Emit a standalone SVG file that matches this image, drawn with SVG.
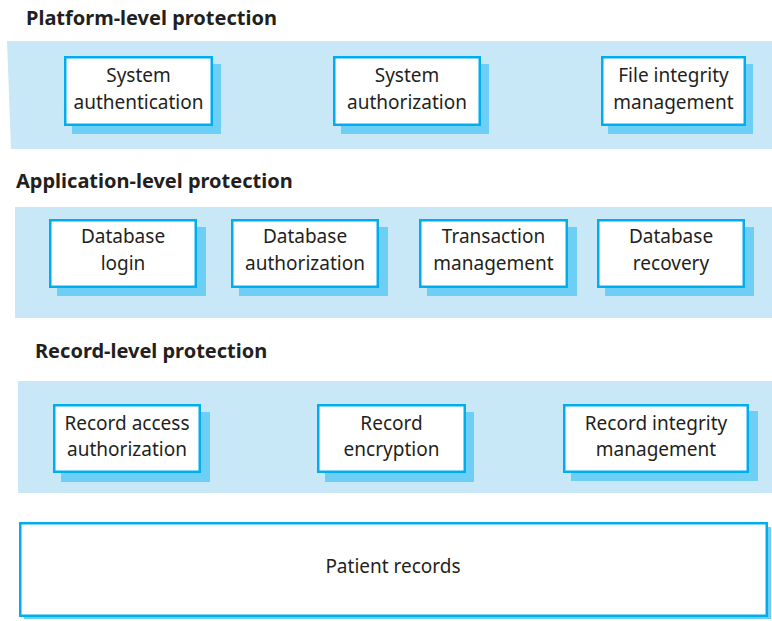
<svg xmlns="http://www.w3.org/2000/svg" width="772" height="621" viewBox="0 0 772 621">
<defs>
<style>
.band{fill:#C8E8F8;}
.shadow{fill:#6DCFF6;}
.box{fill:#FFFFFF;stroke:#00AEEF;stroke-width:2.5;}
.title{font-family:"Noto Sans","Open Sans",sans-serif;font-weight:bold;font-size:20px;fill:#231F20;}
.lbl{font-family:"Noto Sans","Open Sans",sans-serif;font-size:19px;fill:#231F20;text-anchor:middle;}
</style>
</defs>
<rect width="772" height="621" fill="#FFFFFF"/>

<g id="platform-level">
<text class="title" x="26" y="25">Platform-level protection</text>
<polygon class="band" points="7,41 772,41 772,149 11,149"/>
</g>
<g id="system-authentication">
<rect class="shadow" x="72" y="64" width="149" height="70"/>
<rect class="box" x="65.25" y="57.25" width="146.5" height="67.5"/>
<text class="lbl" x="138.5" y="82">System</text>
<text class="lbl" x="138.5" y="109">authentication</text>
</g>
<g id="system-authorization">
<rect class="shadow" x="341" y="64" width="148" height="70"/>
<rect class="box" x="334.25" y="57.25" width="145.5" height="67.5"/>
<text class="lbl" x="407" y="82">System</text>
<text class="lbl" x="407" y="109">authorization</text>
</g>
<g id="file-integrity-management">
<rect class="shadow" x="608" y="64" width="145" height="70"/>
<rect class="box" x="602.25" y="57.25" width="142.5" height="67.5"/>
<text class="lbl" x="673.5" y="82">File integrity</text>
<text class="lbl" x="673.5" y="109">management</text>
</g>

<g id="application-level">
<text class="title" x="16" y="188">Application-level protection</text>
<rect class="band" x="15" y="207" width="757" height="111"/>
</g>
<g id="database-login">
<rect class="shadow" x="57" y="227" width="149" height="69"/>
<rect class="box" x="50.25" y="220.25" width="145.5" height="66.5"/>
<text class="lbl" x="123" y="243">Database</text>
<text class="lbl" x="123" y="270">login</text>
</g>
<g id="database-authorization">
<rect class="shadow" x="239" y="227" width="149" height="69"/>
<rect class="box" x="232.25" y="220.25" width="145.5" height="66.5"/>
<text class="lbl" x="305" y="243">Database</text>
<text class="lbl" x="305" y="270">authorization</text>
</g>
<g id="transaction-management">
<rect class="shadow" x="427" y="227" width="150" height="69"/>
<rect class="box" x="420.25" y="220.25" width="146.5" height="66.5"/>
<text class="lbl" x="493.5" y="243">Transaction</text>
<text class="lbl" x="493.5" y="270">management</text>
</g>
<g id="database-recovery">
<rect class="shadow" x="605" y="227" width="149" height="69"/>
<rect class="box" x="598.25" y="220.25" width="145.5" height="66.5"/>
<text class="lbl" x="671" y="243">Database</text>
<text class="lbl" x="671" y="270">recovery</text>
</g>

<g id="record-level">
<text class="title" x="35" y="358">Record-level protection</text>
<rect class="band" x="18" y="381" width="754" height="112"/>
</g>
<g id="record-access-authorization">
<rect class="shadow" x="61" y="412" width="149" height="70"/>
<rect class="box" x="54.25" y="405.25" width="145.5" height="66.5"/>
<text class="lbl" x="127" y="430">Record access</text>
<text class="lbl" x="127" y="456">authorization</text>
</g>
<g id="record-encryption">
<rect class="shadow" x="325" y="412" width="149" height="70"/>
<rect class="box" x="318.25" y="405.25" width="146.5" height="66.5"/>
<text class="lbl" x="391.5" y="430">Record</text>
<text class="lbl" x="391.5" y="456">encryption</text>
</g>
<g id="record-integrity-management">
<rect class="shadow" x="571" y="411" width="187" height="70"/>
<rect class="box" x="564.25" y="405.25" width="183.5" height="66.5"/>
<text class="lbl" x="656" y="430">Record integrity</text>
<text class="lbl" x="656" y="456">management</text>
</g>

<g id="patient-records">
<rect class="shadow" x="24" y="527" width="747" height="92"/>
<rect class="box" x="20.25" y="523.25" width="746.5" height="92.5"/>
<text class="lbl" x="393" y="573">Patient records</text>
</g>

<g id="connectors"></g>
</svg>
